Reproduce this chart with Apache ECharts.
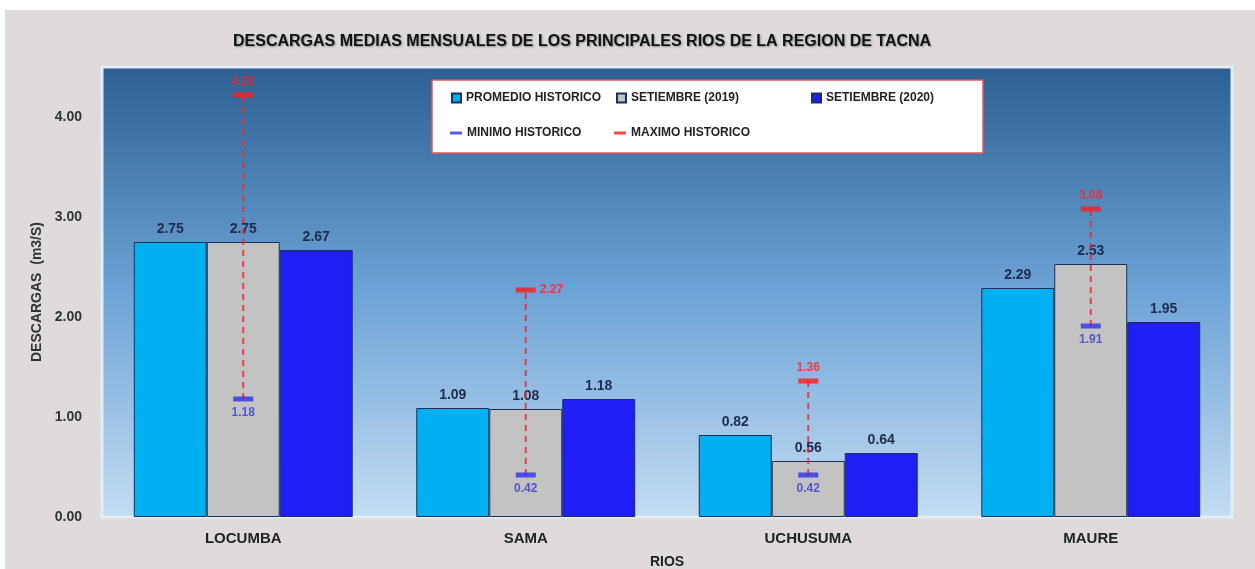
<!DOCTYPE html>
<html>
<head>
<meta charset="utf-8">
<script src="https://cdn.jsdelivr.net/npm/echarts@6/dist/echarts.min.js"></script>
<style>
html,body{margin:0;padding:0;background:#ffffff;}
#main{width:1255px;height:569px;}
</style>
</head>
<body>
<div id="main"></div>
<script>
// datos
const rios = ['LOCUMBA', 'SAMA', 'UCHUSUMA', 'MAURE'];
const promedioHistorico = [2.75, 1.09, 0.82, 2.29];
const setiembre2019 = [2.75, 1.08, 0.56, 2.53];
const setiembre2020 = [2.67, 1.18, 0.64, 1.95];
const minimoHistorico = [1.18, 0.42, 0.42, 1.91];
const maximoHistorico = [4.22, 2.27, 1.36, 3.08];
const yTicks = [0, 1, 2, 3, 4];

const FONT = "'Liberation Sans', Arial, sans-serif";

let chart = echarts.init(document.getElementById('main'));

function barSerie(name, data, color) {
  return {
    name: name,
    type: 'bar',
    data: data,
    barGap: '0%',
    barCategoryGap: '22.5%',
    itemStyle: { color: color, borderColor: '#1b2f5a', borderWidth: 1 },
    label: {
      show: true,
      position: 'top',
      distance: 6,
      color: '#1c2c4c',
      fontFamily: FONT,
      fontWeight: 'bold',
      fontSize: 14,
      formatter: p => p.value.toFixed(2)
    },
    z: 2
  };
}

function legendItem(name, icon, left, top, w, h) {
  return {
    data: [{ name: name, icon: icon }],
    left: left,
    top: top,
    z: 8,
    itemWidth: w,
    itemHeight: h,
    itemGap: 4,
    padding: 0,
    textStyle: { fontFamily: FONT, fontWeight: 'bold', fontSize: 12, color: '#222' },
    selectedMode: false
  };
}

let option = {
  backgroundColor: '#ffffff',
  animation: false,
  graphic: [
    { type: 'rect', z: -10, shape: { x: 5, y: 10, width: 1250, height: 559 }, style: { fill: '#dfdbda' } },
    { type: 'rect', z: 3, shape: { x: 432, y: 80, width: 551, height: 73 }, style: { fill: '#ffffff', stroke: '#e05a5a', lineWidth: 1.5 } }
  ],
  title: {
    text: 'DESCARGAS MEDIAS MENSUALES DE LOS PRINCIPALES RIOS DE LA REGION DE TACNA',
    left: 228,
    top: 29,
    textStyle: {
      fontFamily: FONT,
      fontWeight: 'bold',
      fontSize: 16,
      color: '#111',
      textShadowColor: 'rgba(0,0,0,0.35)',
      textShadowBlur: 2,
      textShadowOffsetX: 1,
      textShadowOffsetY: 1
    }
  },
  legend: [
    legendItem('PROMEDIO HISTORICO', 'rect', 451, 92, 9, 9),
    legendItem('SETIEMBRE (2019)', 'rect', 616, 92, 9, 9),
    legendItem('SETIEMBRE (2020)', 'rect', 811, 92, 9, 9),
    legendItem('MINIMO HISTORICO', 'rect', 450, 127, 12, 3),
    legendItem('MAXIMO HISTORICO', 'rect', 614, 127, 12, 3)
  ],
  grid: {
    left: 102,
    right: 23,
    top: 67,
    bottom: 52,
    outerBoundsMode: 'none',
    show: true,
    borderColor: '#e4ecf4',
    borderWidth: 3,
    backgroundColor: new echarts.graphic.LinearGradient(0, 0, 0, 1, [
      { offset: 0, color: '#2c5f92' },
      { offset: 0.5, color: '#6da3d6' },
      { offset: 1, color: '#c4ddf3' }
    ])
  },
  xAxis: {
    type: 'category',
    data: rios,
    name: 'RIOS',
    nameLocation: 'middle',
    nameGap: 38,
    nameTextStyle: { fontFamily: FONT, fontWeight: 'bold', fontSize: 14, color: '#222' },
    axisLine: { show: false },
    axisTick: { show: false },
    axisLabel: { margin: 14, fontFamily: FONT, fontWeight: 'bold', fontSize: 15, color: '#222' }
  },
  yAxis: {
    type: 'value',
    min: 0,
    max: 4.5,
    interval: 1,
    name: 'DESCARGAS  (m3/S)',
    nameLocation: 'middle',
    nameGap: 52,
    nameTextStyle: { fontFamily: FONT, fontWeight: 'bold', fontSize: 14, color: '#333' },
    splitLine: { show: false },
    axisLine: { show: false },
    axisTick: { show: false },
    axisLabel: {
      margin: 20,
      fontFamily: FONT,
      fontWeight: 'bold',
      fontSize: 14,
      color: '#333',
      formatter: v => (yTicks.indexOf(v) >= 0 ? v.toFixed(2) : '')
    }
  },
  series: [
    barSerie('PROMEDIO HISTORICO', promedioHistorico, '#00b0f0'),
    barSerie('SETIEMBRE (2019)', setiembre2019, '#c3c3c3'),
    barSerie('SETIEMBRE (2020)', setiembre2020, '#1e1ef5'),
    {
      name: 'rango',
      type: 'custom',
      data: rios.map((r, i) => [i, minimoHistorico[i], maximoHistorico[i]]),
      encode: { x: 0, y: [1, 2] },
      z: 3,
      silent: true,
      renderItem: function (params, api) {
        let i = api.value(0);
        let p1 = api.coord([i, api.value(1)]);
        let p2 = api.coord([i, api.value(2)]);
        return {
          type: 'line',
          shape: { x1: p1[0], y1: p1[1], x2: p2[0], y2: p2[1] },
          style: { stroke: 'rgba(240,40,50,0.85)', lineWidth: 2, lineDash: [6, 5] }
        };
      }
    },
    {
      name: 'MINIMO HISTORICO',
      type: 'scatter',
      data: minimoHistorico,
      symbol: 'rect',
      symbolSize: [20, 5],
      itemStyle: { color: '#3030e8' },
      z: 4,
      label: {
        show: true,
        position: 'bottom',
        distance: 5,
        color: '#3a3ad0',
        fontFamily: FONT,
        fontWeight: 'bold',
        fontSize: 12,
        formatter: p => p.value.toFixed(2)
      }
    },
    {
      name: 'MAXIMO HISTORICO',
      type: 'scatter',
      data: maximoHistorico.map((v, i) => i === 1
        ? { value: v, label: { position: 'right', distance: 4 } }
        : v),
      symbol: 'rect',
      symbolSize: [20, 5],
      itemStyle: { color: '#ff1a1a' },
      z: 4,
      label: {
        show: true,
        position: 'top',
        distance: 5,
        color: '#ff2020',
        fontFamily: FONT,
        fontWeight: 'bold',
        fontSize: 12,
        formatter: p => (typeof p.value === 'number' ? p.value : p.data.value).toFixed(2)
      }
    }
  ]
};

chart.setOption(option);
</script>
</body>
</html>
